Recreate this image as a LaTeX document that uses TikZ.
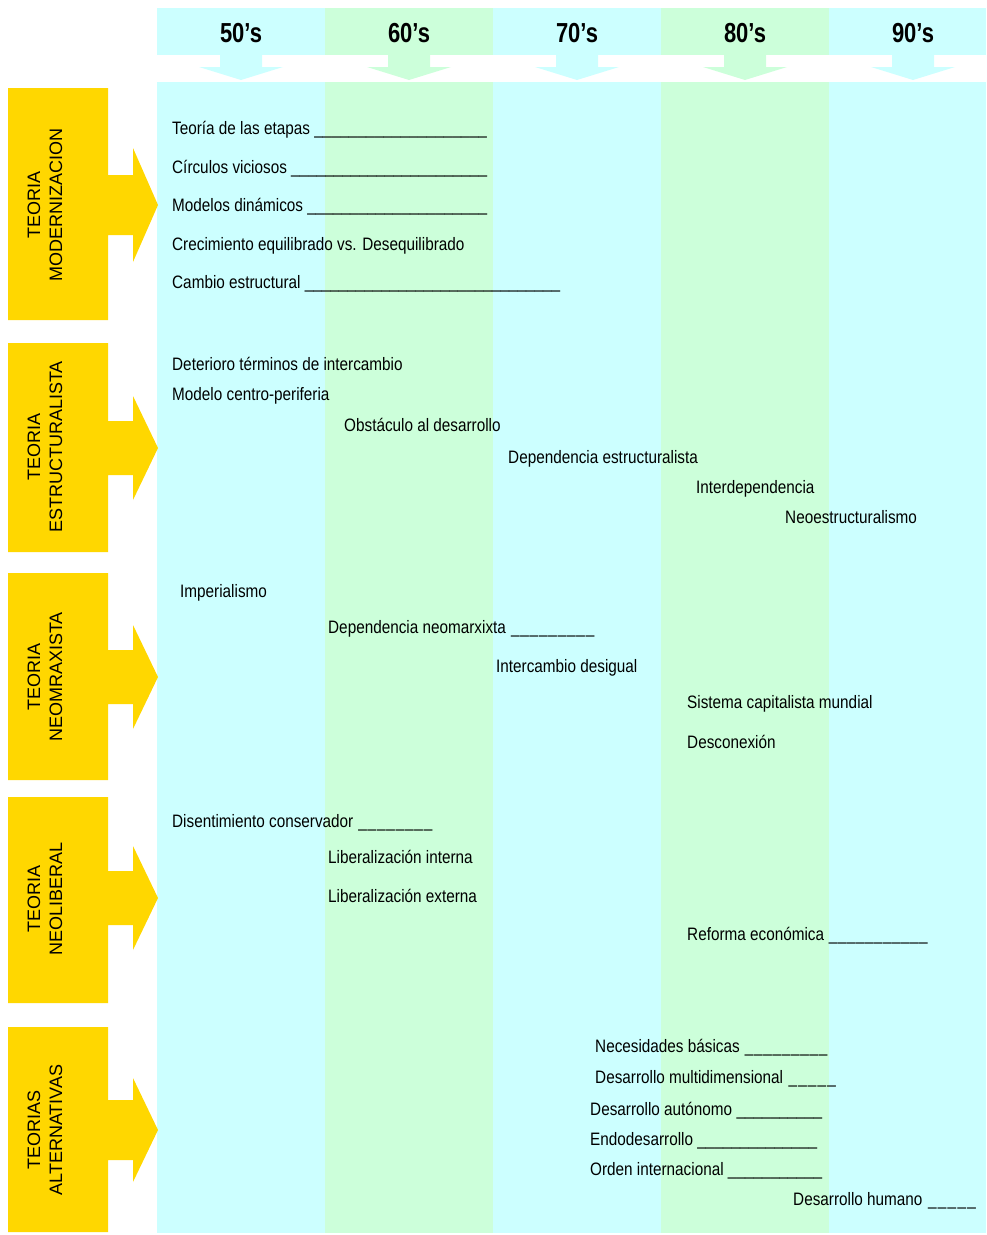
\documentclass[tikz,border=0pt]{standalone}
\usepackage{fontspec}
\setmainfont{Liberation Sans}
\newfontfamily\bodyfont[FakeStretch=0.85]{Liberation Sans}
\newfontfamily\headfont[FakeStretch=0.8]{Liberation Sans}
\definecolor{cy}{HTML}{CCFFFF}
\definecolor{gr}{HTML}{CCFFDA}
\definecolor{yl}{HTML}{FFD700}
\newcommand\lined[2]{\hbox to #1pt{#2\ \xleaders\hbox{\_}\hfill}}
\newcommand\yarrow[5]{\fill[yl] (8,#1) -- (108,#1) -- (108,#3-#5) -- (133,#3-#5) -- (133,#3-#4) -- (158,#3) -- (133,#3+#4) -- (133,#3+#5) -- (108,#3+#5) -- (108,#2) -- (8,#2) -- cycle;}
\begin{document}
\begin{tikzpicture}[x=1pt,y=-1pt,
  every node/.style={inner sep=0pt},
  item/.style={anchor=base west, font=\bodyfont\fontsize{18}{20}\selectfont},
  head/.style={anchor=base, font=\headfont\bfseries\fontsize{27.5}{30}\selectfont},
  theory/.style={rotate=90, align=center, font=\fontsize{18}{22}\selectfont}]
\useasboundingbox (0,0) rectangle (986,1235);
% decade columns
\foreach \i/\c in {0/cy,1/gr,2/cy,3/gr,4/cy}{
  \pgfmathsetmacro\xl{157+168*\i}
  \pgfmathsetmacro\xr{min(157+168*(\i+1),986)}
  \pgfmathsetmacro\xc{241+168*\i}
  \fill[\c] (\xl,8) rectangle (\xr,55);
  \fill[\c] (\xc-21,54) -- (\xc+21,54) -- (\xc+21,67) -- (\xc+42,67) -- (\xc,80) -- (\xc-42,67) -- (\xc-21,67) -- cycle;
  \fill[\c] (\xl,82) rectangle (\xr,1233);
}
\node[head] (h50) at (241,42) {50’s};
\node[head] (h60) at (409,42) {60’s};
\node[head] (h70) at (577,42) {70’s};
\node[head] (h80) at (745,42) {80’s};
\node[head] (h90) at (913,42) {90’s};
% theory arrows
\yarrow{88}{320}{205}{57}{30}
\yarrow{343}{552}{448}{52}{27}
\yarrow{573}{780}{677}{52}{27}
\yarrow{797}{1003}{898}{52}{27}
\yarrow{1027}{1232}{1130}{52}{30}
\node[theory] (t1) at (45,205) {TEORIA\\MODERNIZACION};
\node[theory] (t2) at (45,447) {TEORIA\\ESTRUCTURALISTA};
\node[theory] (t3) at (45,677) {TEORIA\\NEOMRAXISTA};
\node[theory] (t4) at (45,899) {TEORIA\\NEOLIBERAL};
\node[theory] (t5) at (45,1130) {TEORIAS\\ALTERNATIVAS};
% modernizacion
\node[item] (m1) at (172,134) {\lined{315}{Teoría de las etapas}};
\node[item] (m2) at (172,173) {\lined{315}{Círculos viciosos}};
\node[item] (m3) at (172,211) {\lined{315}{Modelos dinámicos}};
\node[item] (m4) at (172,250) {Crecimiento equilibrado vs. Desequilibrado};
\node[item] (m5) at (172,288) {\lined{388}{Cambio estructural}};
% estructuralista
\node[item] (e1) at (172,370) {Deterioro términos de intercambio};
\node[item] (e2) at (172,400) {Modelo centro-periferia};
\node[item] (e3) at (344,431) {Obstáculo al desarrollo};
\node[item] (e4) at (508,463) {Dependencia estructuralista};
\node[item] (e5) at (696,493) {Interdependencia};
\node[item] (e6) at (785,523) {Neoestructuralismo};
% neomarxista
\node[item] (n1) at (180,597) {Imperialismo};
\node[item] (n2) at (328,633) {\lined{267}{Dependencia neomarxixta}};
\node[item] (n3) at (496,672) {Intercambio desigual};
\node[item] (n4) at (687,708) {Sistema capitalista mundial};
\node[item] (n5) at (687,748) {Desconexión};
% neoliberal
\node[item] (l1) at (172,827) {\lined{261}{Disentimiento conservador}};
\node[item] (l2) at (328,863) {Liberalización interna};
\node[item] (l3) at (328,902) {Liberalización externa};
\node[item] (l4) at (687,940) {\lined{241}{Reforma económica}};
% alternativas
\node[item] (a1) at (595,1052) {\lined{233}{Necesidades básicas}};
\node[item] (a2) at (595,1083) {\lined{242}{Desarrollo multidimensional}};
\node[item] (a3) at (590,1115) {\lined{232}{Desarrollo autónomo}};
\node[item] (a4) at (590,1145) {\lined{227}{Endodesarrollo}};
\node[item] (a5) at (590,1175) {\lined{232}{Orden internacional}};
\node[item] (a6) at (793,1205) {\lined{184}{Desarrollo humano}};
\end{tikzpicture}
\end{document}
